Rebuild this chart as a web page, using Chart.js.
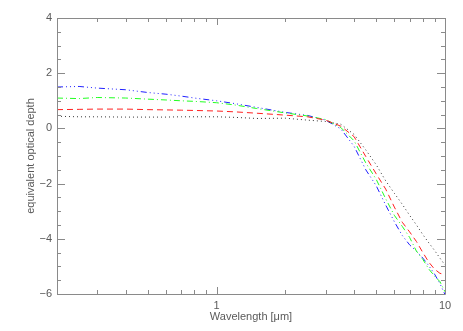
<!DOCTYPE html>
<html>
<head>
<meta charset="utf-8">
<script src="https://cdn.jsdelivr.net/npm/chart.js@4.4.1/dist/chart.umd.min.js"></script>
<style>
  body { margin: 0; background: #fff; }
</style>
</head>
<body>
<canvas id="myChart" width="463" height="331"></canvas>
<script>
// wavelength grid (micron)
const wavelength = [0.2, 0.25, 0.3, 0.4, 0.5, 0.6, 0.7, 0.8, 1.0, 1.2, 1.5, 2.0, 2.5, 3.0,
    3.5, 4.0, 4.5, 5.0, 5.5, 6.0, 6.5, 7.0, 7.5, 8.0, 8.5, 9.0, 9.5, 10];

const dotted = [0.44, 0.42, 0.42, 0.41, 0.41, 0.41, 0.42, 0.42, 0.42, 0.40, 0.36, 0.37, 0.30, 0.25,
    0.15, -0.22, -0.78, -1.32, -1.90, -2.35, -2.75, -3.15, -3.50, -3.85, -4.15, -4.42, -4.70, -4.95];
const dashed = [0.68, 0.69, 0.70, 0.70, 0.68, 0.67, 0.66, 0.65, 0.63, 0.60, 0.55, 0.48, 0.42, 0.30,
    0.08, -0.30, -1.02, -1.65, -2.20, -2.85, -3.40, -3.75, -4.10, -4.50, -4.85, -5.10, -5.25, -5.30];
const dashDot = [1.10, 1.08, 1.12, 1.10, 1.06, 1.03, 1.00, 0.98, 0.93, 0.85, 0.72, 0.56, 0.45, 0.32,
    0.03, -0.45, -1.25, -1.85, -2.55, -3.15, -3.55, -3.95, -4.45, -4.75, -5.10, -5.35, -5.55, -5.92];
const dashDotDot = [1.50, 1.52, 1.46, 1.40, 1.30, 1.24, 1.17, 1.10, 1.00, 0.90, 0.76, 0.58, 0.47, 0.30,
    -0.02, -0.65, -1.50, -2.08, -2.78, -3.38, -3.88, -4.22, -4.45, -4.70, -4.98, -5.28, -5.62, -6.02];

const xTicks = [0.2, 0.3, 0.4, 0.5, 0.6, 0.7, 0.8, 0.9, 1, 2, 3, 4, 5, 6, 7, 8, 9, 10];
const xLabels = [1, 10];
const yMajor = [-6, -4, -2, 0, 2, 4];

const axisColor = '#8a8a8a';
const textColor = '#5a5a5a';
const font = { family: 'Liberation Sans', size: 11 };

function pts(ys) {
    return wavelength.map((w, i) => ({ x: w, y: ys[i] }));
}

function line(ys, color, dash) {
    return {
        data: pts(ys),
        borderColor: color,
        borderWidth: 1,
        borderDash: dash,
        pointRadius: 0,
        tension: 0,
        fill: false
    };
}

// frame and inward ticks on all four sides
const frame = {
    id: 'frame',
    afterDraw(chart) {
        const ctx = chart.ctx;
        const a = chart.chartArea;
        const xs = chart.scales.x, ys = chart.scales.y;
        ctx.save();
        ctx.strokeStyle = axisColor;
        ctx.lineWidth = 1;
        ctx.beginPath();
        ctx.rect(Math.round(a.left) + 0.5, Math.round(a.top) + 0.5,
            Math.round(a.right - a.left), Math.round(a.bottom - a.top));
        xTicks.forEach(t => {
            const px = Math.round(xs.getPixelForValue(t)) + 0.5;
            const len = (t === 1 || t === 10) ? 7 : 4;
            ctx.moveTo(px, a.bottom); ctx.lineTo(px, a.bottom - len);
            ctx.moveTo(px, a.top); ctx.lineTo(px, a.top + len);
        });
        for (let v = -6; v <= 4; v += 0.5) {
            const py = Math.round(ys.getPixelForValue(v)) + 0.5;
            const len = (v % 2 === 0) ? 8 : 4;
            ctx.moveTo(a.left, py); ctx.lineTo(a.left + len, py);
            ctx.moveTo(a.right, py); ctx.lineTo(a.right - len, py);
        }
        ctx.stroke();
        ctx.restore();
    }
};

new Chart(document.getElementById('myChart').getContext('2d'), {
    type: 'line',
    data: {
        datasets: [
            line(dotted, '#333333', [1, 3]),
            line(dashed, '#ff2020', [6, 4]),
            line(dashDot, '#20ff20', [6, 3, 1, 3]),
            line(dashDotDot, '#2020ff', [6, 3, 1, 3, 1, 3, 1, 3])
        ]
    },
    options: {
        responsive: false,
        animation: false,
        layout: { padding: { top: 18, right: 18, left: 0, bottom: 0 } },
        plugins: {
            legend: { display: false },
            tooltip: { enabled: false }
        },
        scales: {
            x: {
                type: 'logarithmic',
                min: 0.2,
                max: 10,
                afterBuildTicks: s => { s.ticks = xTicks.map(v => ({ value: v })); },
                afterFit: s => { s.height = 37; },
                grid: { display: false, drawTicks: false },
                border: { display: false },
                ticks: {
                    autoSkip: false,
                    maxRotation: 0,
                    padding: 5,
                    color: textColor,
                    font: font,
                    callback: v => xLabels.includes(v) ? String(v) : ''
                },
                title: {
                    display: true,
                    text: 'Wavelength [\u03bcm]',
                    color: textColor,
                    font: font,
                    padding: { top: 0, bottom: 7 }
                }
            },
            y: {
                min: -6,
                max: 4,
                afterBuildTicks: s => { s.ticks = yMajor.map(v => ({ value: v })); },
                afterFit: s => { s.width = 57; },
                grid: { display: false, drawTicks: false },
                border: { display: false },
                ticks: {
                    padding: 5,
                    color: textColor,
                    font: font,
                    callback: v => v < 0 ? '\u2212' + Math.abs(v) : String(v)
                },
                title: {
                    display: true,
                    text: 'equivalent optical depth',
                    color: textColor,
                    font: font,
                    padding: { top: 24, bottom: 0 }
                }
            }
        }
    },
    plugins: [frame]
});
</script>
</body>
</html>
